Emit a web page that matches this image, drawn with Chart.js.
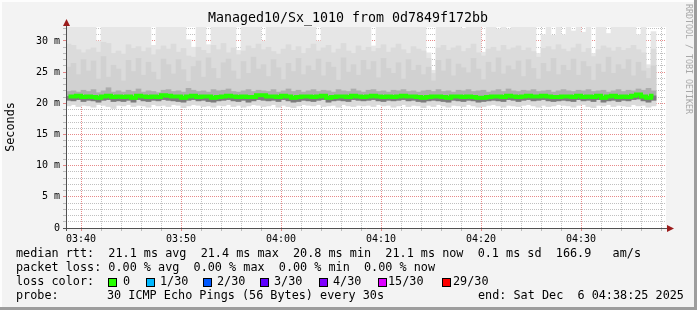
<!DOCTYPE html>
<html>
<head>
<meta charset="utf-8">
<script src="https://cdn.jsdelivr.net/npm/chart.js@4/dist/chart.umd.min.js"></script>
<style>
  html, body { margin: 0; padding: 0; background: #f3f3f3; }
  #wrap { width: 697px; height: 310px; }
</style>
</head>
<body>
<div id="wrap"><canvas id="smoke" width="697" height="310"></canvas></div>
<script>

// time axis, minutes after midnight (03:38:30 .. 04:38:30), one sample every 30 s
var axisStart = 218.5;
var axisEnd = 278.5;
var firstSample = 218.75;
var stepMinutes = 0.5;
var yTop = 32.24;

var medianRtt = [
  21.1, 21.1, 21.2, 21.0, 21.1, 21.0, 20.9, 21.1, 21.2, 21.0,
  21.1, 21.0, 21.1, 20.9, 21.2, 21.1, 21.0, 21.1, 21.0, 21.3,
  21.2, 21.1, 21.1, 20.9, 21.1, 21.2, 21.0, 21.1, 21.1, 20.9,
  21.0, 21.1, 21.2, 21.1, 21.0, 21.1, 21.0, 21.0, 21.3, 21.3,
  21.1, 21.1, 21.0, 21.2, 21.1, 20.9, 21.0, 21.1, 21.1, 21.0,
  21.1, 21.2, 20.9, 21.0, 21.1, 21.1, 21.0, 21.2, 21.1, 21.0,
  21.1, 21.2, 21.1, 21.0, 21.1, 21.0, 21.1, 21.2, 21.1, 21.1,
  21.0, 20.9, 21.0, 21.1, 21.1, 21.0, 20.9, 21.1, 21.1, 21.0,
  21.1, 21.0, 20.9, 20.9, 21.0, 21.1, 21.1, 21.0, 21.2, 21.1,
  21.0, 21.1, 21.2, 21.1, 21.1, 21.2, 21.1, 21.0, 21.0, 21.1,
  21.1, 21.0, 21.2, 21.0, 21.1, 21.0, 21.2, 20.9, 21.1, 21.2,
  21.0, 21.1, 21.0, 21.2, 21.4, 21.1, 20.9, 21.2
];

var maxRtt = [
  32.3, 32.3, 32.3, 32.3, 32.3, 32.3, 30.0, 32.3, 32.3, 32.3,
  32.3, 32.3, 32.3, 32.3, 32.3, 32.3, 32.3, 29.3, 32.3, 32.3,
  32.3, 32.3, 32.3, 32.3, 30.2, 29.0, 32.3, 32.3, 29.4, 32.3,
  32.3, 32.3, 32.3, 32.3, 28.5, 32.3, 32.3, 32.3, 32.3, 30.0,
  32.3, 32.3, 32.3, 32.3, 32.3, 32.3, 32.3, 32.3, 32.3, 32.3,
  30.0, 32.3, 32.3, 32.3, 32.3, 32.3, 32.3, 32.3, 32.3, 32.3,
  32.3, 29.2, 32.3, 32.3, 32.3, 32.3, 32.3, 32.3, 32.3, 32.3,
  32.3, 32.3, 28.1, 25.3, 32.3, 32.3, 32.3, 32.3, 32.3, 32.0,
  32.3, 32.3, 32.3, 28.2, 32.3, 32.3, 31.9, 32.3, 31.9, 32.3,
  32.3, 32.3, 32.3, 32.3, 28.0, 31.0, 32.3, 30.9, 32.3, 31.0,
  32.3, 31.6, 32.3, 31.4, 32.3, 28.0, 32.3, 32.3, 31.2, 32.3,
  32.3, 32.3, 32.3, 32.3, 31.0, 32.3, 26.2, 31.5
];

var p90Rtt = [
  29.5, 29.3, 28.6, 28.1, 28.6, 28.9, 28.2, 29.8, 29.6, 28.0,
  28.4, 27.9, 29.4, 28.8, 29.1, 28.3, 28.9, 27.8, 28.6, 29.2,
  28.7, 29.5, 28.2, 28.8, 27.6, 27.4, 29.0, 28.5, 28.0, 29.3,
  28.6, 29.6, 28.1, 28.9, 27.8, 28.4, 29.2, 28.8, 29.5, 28.6,
  29.0, 28.3, 27.9, 28.7, 29.4, 28.5, 29.1, 28.0, 28.8, 29.5,
  28.4, 28.9, 29.3, 28.1, 28.7, 29.6, 28.4, 28.0, 29.2, 28.5,
  29.0, 28.3, 28.8, 29.4, 28.2, 28.9, 29.5, 28.6, 28.0, 29.1,
  28.7, 28.4, 27.2, 24.8, 28.9, 29.3, 28.5, 28.9, 29.2, 28.3,
  28.8, 29.5, 28.1, 27.6, 28.7, 29.0, 28.4, 29.3, 28.6, 28.9,
  29.2, 28.5, 28.9, 28.3, 27.4, 28.8, 29.1, 28.6, 29.4, 28.7,
  28.3, 28.9, 29.5, 28.2, 28.8, 27.5, 28.6, 29.2, 28.9, 28.4,
  29.0, 28.5, 28.8, 29.3, 28.6, 28.1, 25.6, 28.7
];

var p75Rtt = [
  25.8, 26.4, 24.6, 27.0, 25.2, 26.8, 23.9, 27.5, 24.2, 26.1,
  25.5, 23.6, 26.9, 25.1, 27.2, 24.5, 26.6, 25.0, 23.8, 27.1,
  26.2, 24.7, 27.0, 25.4, 23.5, 25.9, 26.8, 24.2, 27.3, 25.6,
  24.0, 26.5, 27.1, 25.2, 23.9, 26.7, 24.8, 27.4, 25.5, 26.2,
  24.3, 27.0, 25.7, 23.8, 26.4, 25.1, 27.2, 24.6, 26.0, 25.3,
  27.1, 24.4, 26.6, 25.8, 23.7, 27.3, 25.0, 26.2, 24.5, 26.9,
  25.4, 26.7, 24.1, 27.2, 25.6, 24.8, 26.5, 23.9, 27.0, 25.3,
  26.1, 24.6, 25.8, 23.6, 26.9, 25.2, 27.1, 24.4, 26.3, 25.7,
  24.9, 27.2, 25.5, 23.8, 26.6, 25.0, 27.3, 24.7, 26.0, 25.4,
  26.8, 24.3, 27.0, 25.6, 23.9, 26.4, 25.1, 27.2, 24.6, 26.1,
  25.3, 27.1, 24.5, 26.7, 25.9, 23.7, 26.3, 25.0, 27.4, 24.8,
  26.2, 25.5, 27.0, 24.4, 26.6, 25.2, 24.0, 26.0
];

var upperRtt = [
  21.9, 22.0, 21.8, 22.1, 21.9, 22.2, 21.7, 22.0, 22.5, 21.8,
  22.0, 21.8, 22.1, 21.9, 22.3, 21.8, 22.0, 21.9, 21.7, 22.1,
  22.2, 21.9, 22.0, 21.8, 22.4, 22.1, 21.9, 22.0, 21.8, 22.2,
  22.0, 22.1, 22.3, 21.9, 21.8, 22.0, 22.2, 21.9, 22.1, 22.0,
  21.9, 22.2, 21.8, 22.0, 22.3, 21.9, 22.1, 21.8, 22.0, 22.2,
  21.9, 22.1, 22.0, 21.8, 22.2, 22.0, 21.9, 22.3, 22.0, 21.8,
  22.1, 22.2, 21.9, 22.0, 21.8, 22.1, 22.0, 22.2, 21.9, 22.0,
  21.8, 22.0, 22.1, 21.9, 22.2, 21.9, 22.0, 21.8, 22.1, 22.0,
  22.2, 21.9, 22.0, 22.1, 21.8, 22.0, 22.2, 21.9, 22.3, 22.0,
  21.9, 22.1, 22.0, 22.2, 21.9, 22.0, 22.1, 21.8, 22.0, 22.2,
  22.0, 21.9, 22.1, 22.0, 22.2, 21.9, 22.0, 22.1, 21.8, 22.0,
  22.2, 21.9, 22.1, 22.0, 22.3, 22.1, 22.4, 22.0
];

var lowerRtt = [
  20.5, 20.4, 20.6, 20.3, 20.5, 20.4, 20.2, 20.5, 20.6, 20.3,
  20.4, 20.3, 20.5, 20.2, 20.6, 20.4, 20.3, 20.5, 20.4, 20.6,
  20.5, 20.4, 20.3, 20.2, 20.5, 20.6, 20.4, 20.5, 20.3, 20.2,
  20.4, 20.5, 20.6, 20.4, 20.3, 20.5, 20.2, 20.4, 20.6, 20.5,
  20.4, 20.5, 20.3, 20.6, 20.4, 20.2, 20.3, 20.5, 20.4, 20.3,
  20.5, 20.6, 20.2, 20.4, 20.5, 20.4, 20.3, 20.6, 20.5, 20.4,
  20.5, 20.6, 20.4, 20.3, 20.5, 20.4, 20.5, 20.6, 20.4, 20.5,
  20.3, 20.2, 20.4, 20.5, 20.4, 20.3, 20.2, 20.5, 20.4, 20.3,
  20.5, 20.4, 20.2, 20.3, 20.4, 20.5, 20.4, 20.3, 20.6, 20.5,
  20.3, 20.5, 20.6, 20.4, 20.5, 20.6, 20.4, 20.3, 20.4, 20.5,
  20.4, 20.3, 20.6, 20.4, 20.5, 20.3, 20.6, 20.2, 20.4, 20.5,
  20.3, 20.5, 20.4, 20.6, 20.7, 20.4, 20.2, 20.5
];

var minRtt = [
  19.6, 19.8, 19.5, 19.7, 19.6, 19.4, 19.8, 19.7, 19.5, 19.2,
  19.7, 19.6, 19.8, 19.5, 19.7, 19.6, 19.4, 19.8, 19.6, 19.7,
  19.5, 19.8, 19.7, 19.3, 19.6, 19.8, 19.7, 19.5, 19.6, 19.4,
  19.7, 19.6, 19.8, 19.5, 19.7, 19.4, 19.6, 19.8, 19.7, 19.5,
  19.6, 19.8, 19.4, 19.7, 19.5, 19.3, 19.6, 19.8, 19.7, 19.6,
  19.8, 19.5, 19.6, 19.7, 19.4, 19.8, 19.6, 19.5, 19.7, 19.6,
  19.7, 19.5, 19.8, 19.6, 19.7, 19.4, 19.6, 19.8, 19.5, 19.7,
  19.6, 19.3, 19.7, 19.5, 19.8, 19.6, 19.4, 19.7, 19.6, 19.5,
  19.8, 19.6, 19.4, 19.5, 19.7, 19.8, 19.6, 19.4, 19.7, 19.6,
  19.5, 19.7, 19.8, 19.6, 19.4, 19.7, 19.5, 19.6, 19.8, 19.7,
  19.6, 19.4, 19.7, 19.8, 19.5, 19.3, 19.7, 19.6, 19.8, 19.5,
  19.7, 19.6, 19.5, 19.8, 19.6, 19.7, 19.4, 19.6
];

var lossLabels = ['0', '1/30', '2/30', '3/30', '4/30', '15/30', '29/30'];
var lossColors = ['#26ff00', '#00b8ff', '#0059ff', '#5e00ff', '#7e00ff', '#dd00ff', '#ff0000'];

var titleText = 'Managed10/Sx_1010 from 0d7849f172bb';
var legendRows = [
  'median rtt:  21.1 ms avg  21.4 ms max  20.8 ms min  21.1 ms now  0.1 ms sd  166.9   am/s',
  'packet loss: 0.00 % avg  0.00 % max  0.00 % min  0.00 % now'
];
var probeText = '30 ICMP Echo Pings (56 Bytes) every 30s';
var endText = 'end: Sat Dec  6 04:38:25 2025';


function band(lo, hi) {
  return lo.map(function (v, i) {
    return { x: firstSample + i * stepMinutes, y: [v, hi[i]] };
  });
}

function line(vals) {
  return vals.map(function (v, i) {
    return { x: firstSample + i * stepMinutes, y: v };
  });
}

function smokeLayer(lo, hi, color, order) {
  return {
    type: 'bar',
    data: band(lo, hi),
    backgroundColor: color,
    borderWidth: 0,
    barPercentage: 1,
    categoryPercentage: 1,
    grouped: false,
    order: order
  };
}

function hhmm(v) {
  var h = Math.floor(v / 60), m = v % 60;
  return (h < 10 ? '0' : '') + h + ':' + (m < 10 ? '0' : '') + m;
}

var MONO = '"DejaVu Sans Mono", monospace';

var rrdFrame = {
  id: 'rrdFrame',
  beforeDraw: function (chart) {
    var ctx = chart.ctx, a = chart.chartArea, w = chart.width, h = chart.height;
    ctx.save();
    ctx.fillStyle = '#f3f3f3';
    ctx.fillRect(0, 0, w, h);
    ctx.fillStyle = '#fdfdfd';
    ctx.fillRect(0, 0, w, 2);
    ctx.fillRect(0, 0, 2, h);
    ctx.fillStyle = '#9d9d9d';
    ctx.fillRect(0, h - 3, w, 3);
    ctx.fillRect(w - 3, 0, 3, h);
    ctx.fillStyle = '#ffffff';
    ctx.fillRect(a.left, a.top, a.right - a.left, a.bottom - a.top);
    ctx.restore();
  },
  afterDraw: function (chart) {
    var ctx = chart.ctx, a = chart.chartArea;
    ctx.save();

    // axes + arrows
    ctx.strokeStyle = '#505050';
    ctx.lineWidth = 1;
    ctx.beginPath();
    ctx.moveTo(a.left + 0.5, a.bottom + 3);
    ctx.lineTo(a.left + 0.5, a.top - 4);
    ctx.moveTo(a.left - 3, a.bottom + 0.5);
    ctx.lineTo(a.right + 4, a.bottom + 0.5);
    ctx.stroke();
    ctx.fillStyle = '#9b1c1c';
    ctx.beginPath();
    ctx.moveTo(a.left + 0.5, a.top - 8);
    ctx.lineTo(a.left - 3, a.top - 1);
    ctx.lineTo(a.left + 4, a.top - 1);
    ctx.closePath();
    ctx.fill();
    ctx.beginPath();
    ctx.moveTo(a.right + 8, a.bottom + 0.5);
    ctx.lineTo(a.right + 1, a.bottom - 3);
    ctx.lineTo(a.right + 1, a.bottom + 4);
    ctx.closePath();
    ctx.fill();

    // title
    ctx.fillStyle = '#000';
    ctx.textBaseline = 'middle';
    ctx.textAlign = 'center';
    ctx.font = '13.3px ' + MONO;
    ctx.fillText(titleText, 348, 19);

    // y title
    ctx.font = '11.8px ' + MONO;
    ctx.save();
    ctx.translate(11, 127);
    ctx.rotate(-Math.PI / 2);
    ctx.fillText('Seconds', 0, 0);
    ctx.restore();

    // watermark
    ctx.save();
    ctx.fillStyle = '#a8a8a8';
    ctx.font = '8.3px ' + MONO;
    ctx.textAlign = 'left';
    ctx.translate(688, 4);
    ctx.rotate(Math.PI / 2);
    ctx.fillText('RRDTOOL / TOBI OETIKER', 0, 0);
    ctx.restore();

    // legend
    ctx.textAlign = 'left';
    ctx.fillText(legendRows[0], 16, 254);
    ctx.fillText(legendRows[1], 16, 268);
    ctx.fillText('loss color:', 16, 282);
    var boxX = [108, 146, 203, 260, 319, 378, 442];
    var textX = [123, 160, 217, 274, 333, 388, 453];
    lossLabels.forEach(function (lab, i) {
      ctx.fillStyle = lossColors[i];
      ctx.fillRect(boxX[i], 278, 8, 8);
      ctx.strokeStyle = '#000';
      ctx.strokeRect(boxX[i] + 0.5, 278.5, 8, 8);
      ctx.fillStyle = '#000';
      ctx.fillText(lab, textX[i], 282);
    });
    ctx.fillText('probe:', 16, 296);
    ctx.fillText(probeText, 107, 296);
    ctx.fillText(endText, 478, 296);

    ctx.restore();
  }
};


var smokeChart = new Chart(document.getElementById('smoke'), {
  type: 'bar',
  data: {
    datasets: [
      {
        type: 'line',
        data: line(medianRtt),
        borderColor: '#26ff00',
        borderWidth: 4,
        borderCapStyle: 'butt',
        pointRadius: 0,
        stepped: 'middle',
        order: 0
      },
      smokeLayer(lowerRtt, medianRtt, '#7c7c7c', 1),
      smokeLayer(lowerRtt, upperRtt, '#adadad', 2),
      smokeLayer(lowerRtt, p75Rtt, '#d1d1d1', 3),
      smokeLayer(minRtt, p90Rtt, '#dbdbdb', 4),
      smokeLayer(minRtt, maxRtt, '#e6e6e6', 5)
    ]
  },
  options: {
    responsive: false,
    devicePixelRatio: 1,
    animation: false,
    layout: { padding: { left: 0, top: 27, right: 31, bottom: 0 } },
    plugins: {
      legend: { display: false },
      tooltip: { enabled: false }
    },
    scales: {
      x: {
        type: 'linear',
        min: axisStart,
        max: axisEnd,
        offset: false,
        z: 1,
        afterBuildTicks: function (scale) {
          var t = [];
          for (var v = 220; v <= 278; v += 2) t.push({ value: v });
          scale.ticks = t;
        },
        afterFit: function (scale) { scale.height = 82; },
        grid: {
          offset: false,
          drawTicks: true,
          tickLength: 3,
          color: function (c) {
            return c.tick && c.tick.value % 10 === 0 ? 'rgba(215,60,60,0.6)' : 'rgba(150,150,150,0.6)';
          }
        },
        border: { display: false, dash: [1, 1] },
        ticks: {
          autoSkip: false,
          maxRotation: 0,
          padding: 2,
          color: '#000',
          font: { family: MONO, size: 10 },
          callback: function (v) { return v % 10 === 0 ? hhmm(v) : ''; }
        }
      },
      y: {
        type: 'linear',
        min: 0,
        max: yTop,
        z: 1,
        afterBuildTicks: function (scale) {
          var t = [];
          for (var v = 0; v <= 32; v++) t.push({ value: v });
          scale.ticks = t;
        },
        afterFit: function (scale) { scale.width = 66; },
        grid: {
          drawTicks: true,
          tickLength: 3,
          color: function (c) {
            return c.tick && c.tick.value % 5 === 0 ? 'rgba(215,60,60,0.6)' : 'rgba(150,150,150,0.6)';
          }
        },
        border: { display: false, dash: [1, 1] },
        ticks: {
          autoSkip: false,
          padding: 3,
          color: '#000',
          font: { family: MONO, size: 10 },
          callback: function (v) {
            if (v % 5 !== 0) return '';
            return v === 0 ? '0' : v + ' m';
          }
        }
      }
    }
  },
  plugins: [rrdFrame]
});

</script>
</body>
</html>
